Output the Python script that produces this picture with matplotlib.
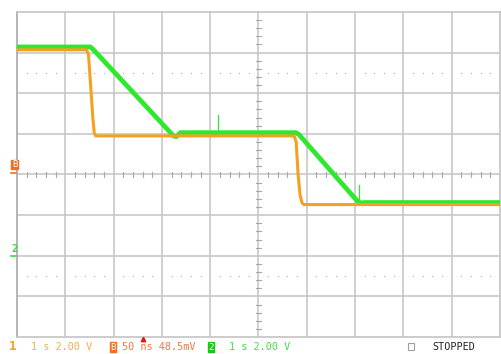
import matplotlib
matplotlib.use("Agg")
import matplotlib.pyplot as plt
from matplotlib.patches import Rectangle

# trace breakpoints, in screen divisions (x: -5..5, y: -4..4)
ch1_t = [-5.0, -3.56, -3.52, -3.47, -3.43, -3.40, -3.37, 0.74, 0.78, 0.82, 0.86, 0.90, 0.94, 5.0]
ch1_v = [3.07, 3.07, 2.95, 2.10, 1.40, 1.02, 0.95, 0.95, 0.80, 0.00, -0.50, -0.70, -0.74, -0.74]

ch2_t = [-5.0, -3.48, -3.40, -1.76, -1.70, -1.62, 0.78, 0.84, 2.05, 2.12, 2.20, 5.0]
ch2_v = [3.14, 3.14, 3.05, 0.95, 0.93, 1.03, 1.03, 0.98, -0.66, -0.70, -0.69, -0.69]

# single-sample glitches on channel 2
spike_t = [-0.84, 2.08]
spike_base = [1.03, -0.62]
spike_top = [1.47, -0.25]

ch1_label = "1 s 2.00 V"
trig_label = "50 ns 48.5mV"
ch2_label = "1 s 2.00 V"

fig = plt.figure(figsize=(5.02, 3.54), dpi=100)
fig.patch.set_facecolor("white")
ax = fig.add_axes([17 / 502, 17 / 354, 483 / 502, 325 / 354])
ax.set_xlim(-5, 5)
ax.set_ylim(-4, 4)
ax.set_xticks([])
ax.set_yticks([])
for s in ax.spines.values():
    s.set_color("#c4c4c4")
    s.set_linewidth(1.2)
ax.spines["left"].set_color("#a8a8a8")

# graticule
grid_c = "#c4c4c4"
for x in range(-4, 5):
    ax.axvline(x, color=grid_c, lw=1.1, zorder=1)
for y in range(-3, 4):
    ax.axhline(y, color=grid_c, lw=1.1, zorder=1)

# minor ticks on the centre axes
minor = [k / 5 for k in range(-25, 26) if k % 5 != 0]
minor_y = [k / 5 for k in range(-20, 21) if k % 5 != 0]
for m in minor:
    ax.plot([m, m], [-0.07, 0.07], color="#a8a8a8", lw=0.8, zorder=1)
for m in minor_y:
    ax.plot([-0.06, 0.06], [m, m], color="#a8a8a8", lw=0.8, zorder=1)

# dotted levels
for y in (2.5, -2.5):
    ax.plot(minor, [y] * len(minor), ls="none", marker="s", ms=0.8,
            color="#b0b0b0", mew=0, zorder=1)

# traces
ax.plot(ch2_t, ch2_v, color="#2ee82e", lw=3.4, solid_joinstyle="round", zorder=3)
for t, b, top in zip(spike_t, spike_base, spike_top):
    ax.plot([t, t], [b, top], color="#2ee82e", lw=0.9, zorder=3)
ax.plot(ch1_t, ch1_v, color="#f5a020", lw=2.2, solid_joinstyle="round", zorder=4)

# left reference markers
ax.plot([-5.13, -5.0], [0.04, 0.04], color="#f07020", lw=1.2, clip_on=False)
ax.plot([-5.13, -5.0], [-2.0, -2.0], color="#33dd33", lw=1.2, clip_on=False)
fig.text(14.5 / 502, 1 - 164.5 / 354, "B", color="white", fontsize=6.5,
         family="DejaVu Sans Mono", ha="center", va="center",
         bbox=dict(boxstyle="square,pad=0.05", fc="#f07020", ec="#f07020"))
fig.text(14.5 / 502, 1 - 248.5 / 354, "2", color="#33dd33", fontsize=7.5,
         family="DejaVu Sans Mono", ha="center", va="center", weight="bold")

# trigger position marker
ax.plot([-2.39], [-4.045], marker="^", ms=3.2, color="#ee1111", clip_on=False, zorder=5)

# status bar
ty = 1 - 347 / 354
mono = "DejaVu Sans Mono"
fig.text(13 / 502, ty, "1", color="#f8a020", fontsize=9, family=mono,
         ha="center", va="center", weight="bold")
fig.text(31 / 502, ty, ch1_label, color="#f8b040", fontsize=7.3, family=mono, va="center")
fig.text(113 / 502, ty, "B", color="white", fontsize=6.5, family=mono,
         ha="center", va="center",
         bbox=dict(boxstyle="square,pad=0.08", fc="#f07020", ec="#f07020"))
fig.text(122 / 502, ty, trig_label, color="#f07840", fontsize=7.3, family=mono, va="center")
fig.text(211 / 502, ty, "2", color="white", fontsize=6.5, family=mono,
         ha="center", va="center",
         bbox=dict(boxstyle="square,pad=0.08", fc="#11cc11", ec="#11cc11"))
fig.text(229 / 502, ty, ch2_label, color="#44dd44", fontsize=7.3, family=mono, va="center")
fig.add_artist(Rectangle((408 / 502, 1 - 350 / 354), 6 / 502, 7 / 354,
                         transform=fig.transFigure, fill=False, ec="#a0a0a0", lw=0.8))
fig.text(432 / 502, ty, "STOPPED", color="#222222", fontsize=7.3, family=mono, va="center")

fig.savefig("out.png", dpi=100)
